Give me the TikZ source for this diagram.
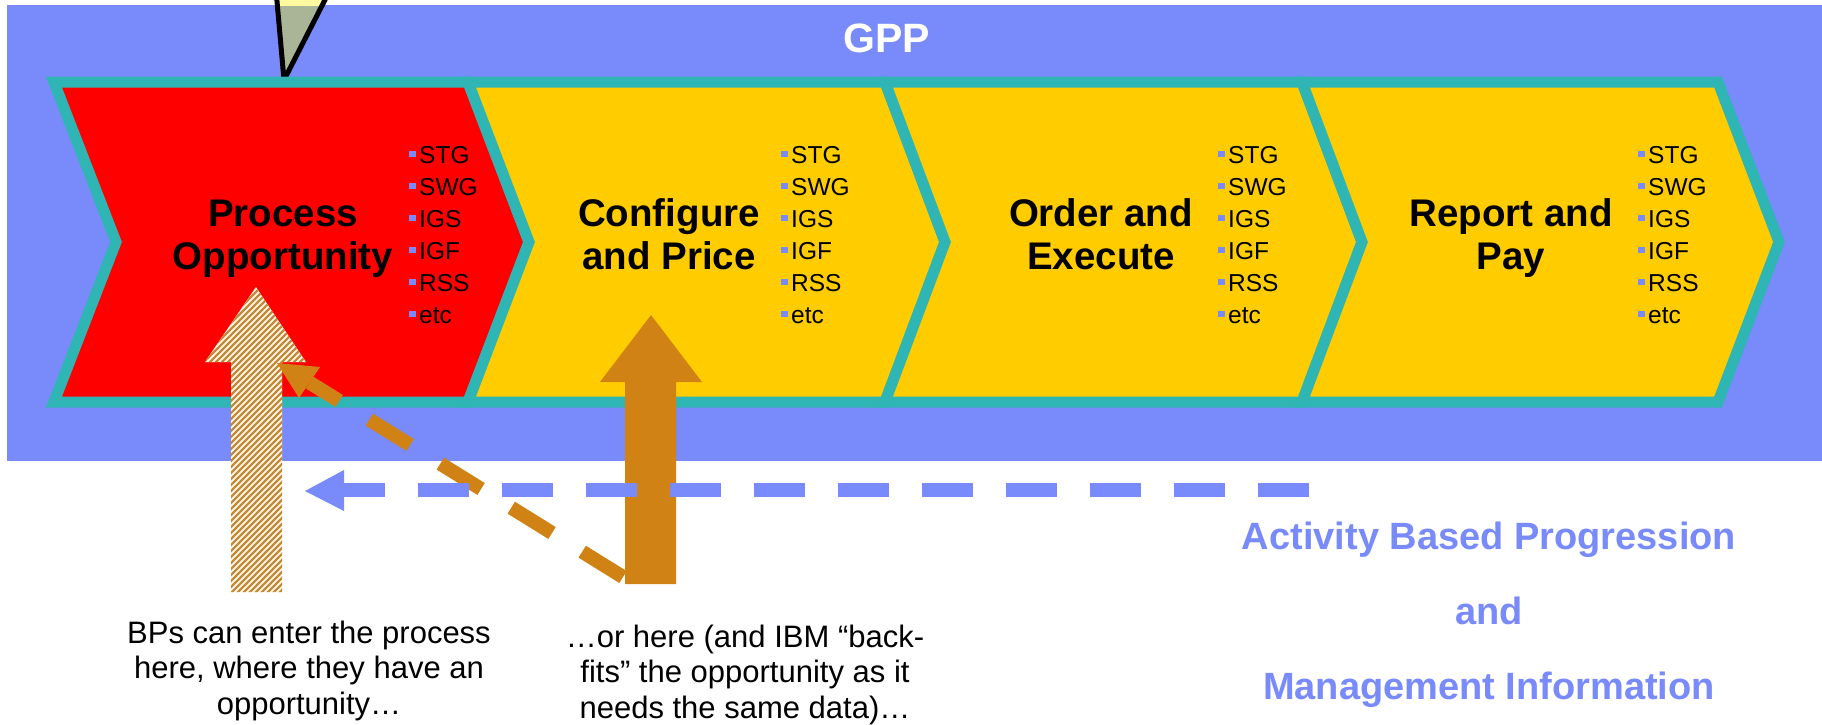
\documentclass[tikz,border=0pt]{standalone}
\usepackage{fontspec}
\setmainfont{Liberation Sans}
\definecolor{gppblue}{RGB}{121,138,250}
\definecolor{gppteal}{RGB}{48,181,181}
\definecolor{gppred}{RGB}{255,0,0}
\definecolor{gppgold}{RGB}{255,204,0}
\definecolor{gppbrown}{RGB}{209,130,20}
\definecolor{hatchbrown}{RGB}{196,138,60}
\definecolor{hatchcream}{RGB}{255,250,235}
\definecolor{trifill}{RGB}{170,181,152}
\definecolor{triyellow}{RGB}{255,250,160}
\newcommand\myfs[2]{\fontsize{#1}{#2}\selectfont}
\newcommand\gbul{\textcolor{gppblue}{\rule[6pt]{6.5pt}{6pt}}\hspace{3.5pt}}
\newcommand\blist{\begin{tabular}[t]{@{}l@{}}\gbul STG\\\gbul SWG\\\gbul IGS\\\gbul IGF\\\gbul RSS\\\gbul etc\end{tabular}}
\begin{document}
\begin{tikzpicture}[x=1pt,y=-1pt,
  chev/.style={draw=gppteal, line width=11pt, line join=miter},
  lbl/.style={inner sep=0pt, anchor=base, font=\myfs{38.5}{43}\bfseries},
  blst/.style={inner sep=0pt, anchor=base west, font=\myfs{24.5}{32}},
  note/.style={inner sep=0pt, anchor=base, font=\myfs{31}{35.5}},
  abp/.style={inner sep=0pt, anchor=base, font=\myfs{38}{75}\bfseries, text=gppblue}]
\useasboundingbox (0,0) rectangle (1822,724);
\fill[white] (0,0) rectangle (1822,724);
% blue GPP band
\fill[gppblue] (7,5) rectangle (1822,461);
% callout triangle
\begin{scope}
\clip (0,0) rectangle (1822,724);
\fill[trifill] (276,-10) -- (284,80) -- (330,-10) -- cycle;
\begin{scope}
\clip (0,-20) rectangle (1822,5);
\fill[triyellow] (276,-10) -- (284,80) -- (330,-10) -- cycle;
\end{scope}
\draw[black, line width=5pt, line join=round] (276,-10) -- (284,80) -- (330,-10);
\end{scope}
% chevrons
\draw[chev, fill=gppred] (54,82) -- (468,82) -- (529,242) -- (468,402) -- (54,402) -- (116,242) -- cycle;
\draw[chev, fill=gppgold] (468,82) -- (885,82) -- (945,242) -- (885,402) -- (468,402) -- (529,242) -- cycle;
\draw[chev, fill=gppgold] (885,82) -- (1302,82) -- (1362,242) -- (1302,402) -- (885,402) -- (945,242) -- cycle;
\draw[chev, fill=gppgold] (1302,82) -- (1718,82) -- (1779,242) -- (1718,402) -- (1302,402) -- (1362,242) -- cycle;
% GPP title
\node[inner sep=0pt, anchor=base, font=\myfs{41}{48}\bfseries, text=white] (gpp) at (887,52) {GPP};
% labels
\node[lbl] (l1) at (283,226) {\begin{tabular}[t]{@{}c@{}}Process\\Opportunity\end{tabular}};
\node[lbl] (l2) at (669,226) {\begin{tabular}[t]{@{}c@{}}Configure\\and Price\end{tabular}};
\node[lbl] (l3) at (1101,226) {\begin{tabular}[t]{@{}c@{}}Order and\\Execute\end{tabular}};
\node[lbl] (l4) at (1511,226) {\begin{tabular}[t]{@{}c@{}}Report and\\Pay\end{tabular}};
% bullet lists
\node[blst] (b1) at (409,163) {\blist};
\node[blst] (b2) at (781,163) {\blist};
\node[blst] (b3) at (1218,163) {\blist};
\node[blst] (b4) at (1638,163) {\blist};
% hatched entry arrow
\coordinate (htip) at (256,287);
\begin{scope}
\clip (231,592) -- (231,362) -- (205,362) -- (htip) -- (306,362) -- (282,362) -- (282,592) -- cycle;
\fill[hatchcream] (200,280) rectangle (310,600);
\foreach \k in {-130,-124,...,316}
  \draw[hatchbrown, line width=2.4pt] (\k,600) -- ++(330,-330);
\end{scope}
% solid brown entry arrow
\coordinate (stip) at (651,315);
\fill[gppbrown] (625,584) -- (625,382) -- (600,382) -- (stip) -- (702,382) -- (676,382) -- (676,584) -- cycle;
% brown dashed back-fit arrow
\coordinate (bfs) at (623,577);
\coordinate (bfe) at (309.5,382.5);
\draw[gppbrown, line width=14pt, dash pattern=on 48pt off 35.5pt] (bfs) -- (bfe);
\fill[gppbrown] (277,363) -- (320,367) -- (299,398) -- cycle;
% blue dashed progression arrow
\coordinate (abs) at (1309,490);
\coordinate (abe) at (344,490);
\draw[gppblue, line width=14pt, dash pattern=on 51pt off 33pt] (abs) -- (abe);
\fill[gppblue] (305,491) -- (344,470) -- (344,511) -- cycle;
% notes
\node[note] (n1) at (309,643) {\begin{tabular}[t]{@{}c@{}}BPs can enter the process\\here, where they have an\\opportunity…\end{tabular}};
\node[note] (n2) at (745,647) {\begin{tabular}[t]{@{}c@{}}…or here (and IBM “back-\\fits” the opportunity as it\\needs the same data)…\end{tabular}};
\node[abp] (abm) at (1489,549) {\begin{tabular}[t]{@{}c@{}}Activity Based Progression\\and\\Management Information\end{tabular}};
\end{tikzpicture}
\end{document}
